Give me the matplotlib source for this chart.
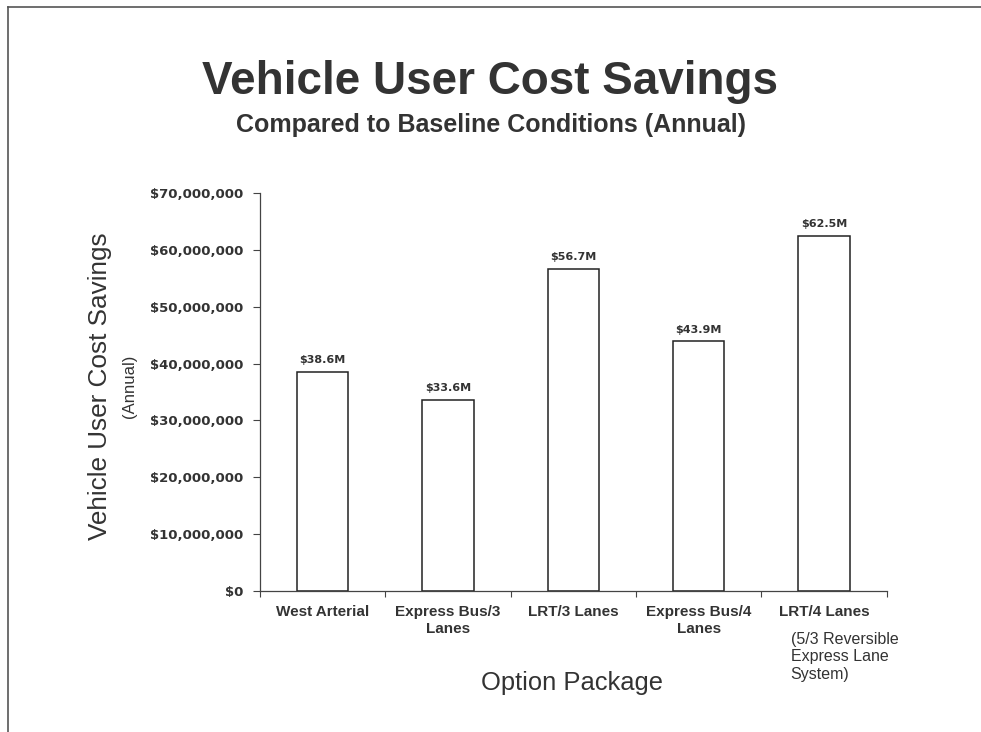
import matplotlib
matplotlib.use('Agg')
import matplotlib.pyplot as plt
from matplotlib.lines import Line2D

# data
options = ['West Arterial', 'Express Bus/3\nLanes', 'LRT/3 Lanes',
           'Express Bus/4\nLanes', 'LRT/4 Lanes']
savings = [38.6e6, 33.6e6, 56.7e6, 43.9e6, 62.5e6]
bar_labels = ['$38.6M', '$33.6M', '$56.7M', '$43.9M', '$62.5M']
y_ticks = [0, 10e6, 20e6, 30e6, 40e6, 50e6, 60e6, 70e6]

plt.rcParams['font.family'] = ['Liberation Sans', 'DejaVu Sans']
txt = '#333333'
wide = 'DejaVu Sans'  # wider face for the numbers

fig = plt.figure(figsize=(9.81, 7.32), dpi=100)
ax = fig.add_axes([0.265, 0.1926, 0.639, 0.5437])

x = list(range(len(options)))
ax.bar(x, savings, width=0.41, color='white', edgecolor='#222222', linewidth=1.1)
for xi, v, lab in zip(x, savings, bar_labels):
    ax.text(xi, v + 1.2e6, lab, ha='center', va='bottom', fontsize=8,
            fontweight='bold', color=txt, family=wide)

ax.set_xlim(-0.5, len(options) - 0.5)
ax.set_ylim(0, 70e6)
ax.set_yticks(y_ticks)
ax.set_yticklabels(['${:,.0f}'.format(v) for v in y_ticks], fontsize=9.5,
                   fontweight='bold', color=txt, family=wide)
ax.tick_params(axis='y', length=5, width=0.8, color='#444444', pad=7)

# boundary ticks on x, labels centred under bars
ax.set_xticks([i - 0.5 for i in range(len(options) + 1)])
ax.set_xticklabels([])
ax.tick_params(axis='x', which='major', length=4, width=0.8, color='#444444')
ax.set_xticks(x, minor=True)
ax.set_xticklabels(options, minor=True, fontsize=11, fontweight='bold',
                   color=txt, linespacing=1.3)
ax.tick_params(axis='x', which='minor', length=0, pad=10)

for s in ['top', 'right']:
    ax.spines[s].set_visible(False)
for s in ['left', 'bottom']:
    ax.spines[s].set_color('#444444')
    ax.spines[s].set_linewidth(0.9)

# titles and labels
fig.text(0.5, 0.872, 'Vehicle User Cost Savings', ha='center', va='baseline',
         fontsize=33, fontweight='bold', color=txt)
fig.text(0.5, 0.8197, 'Compared to Baseline Conditions (Annual)', ha='center',
         va='baseline', fontsize=18, fontweight='bold', color=txt)
fig.text(0.102, 0.4727, 'Vehicle User Cost Savings', rotation=90, ha='center',
         va='center', fontsize=18.8, color=txt)
fig.text(0.1325, 0.4727, '(Annual)', rotation=90, ha='center', va='center',
         fontsize=12, color=txt)
fig.text(0.583, 0.067, 'Option Package', ha='center', va='center',
         fontsize=18.4, color=txt)
fig.text(0.806, 0.137, '(5/3 Reversible\nExpress Lane\nSystem)', ha='left',
         va='top', fontsize=11.5, color=txt, linespacing=1.2)

# page border (left and top)
fig.add_artist(Line2D([0.0082, 0.0082], [0, 0.99], transform=fig.transFigure,
                      color='#555555', linewidth=1.2))
fig.add_artist(Line2D([0.0082, 1.0], [0.99, 0.99], transform=fig.transFigure,
                      color='#555555', linewidth=1.2))

fig.savefig('out.png', dpi=100)
